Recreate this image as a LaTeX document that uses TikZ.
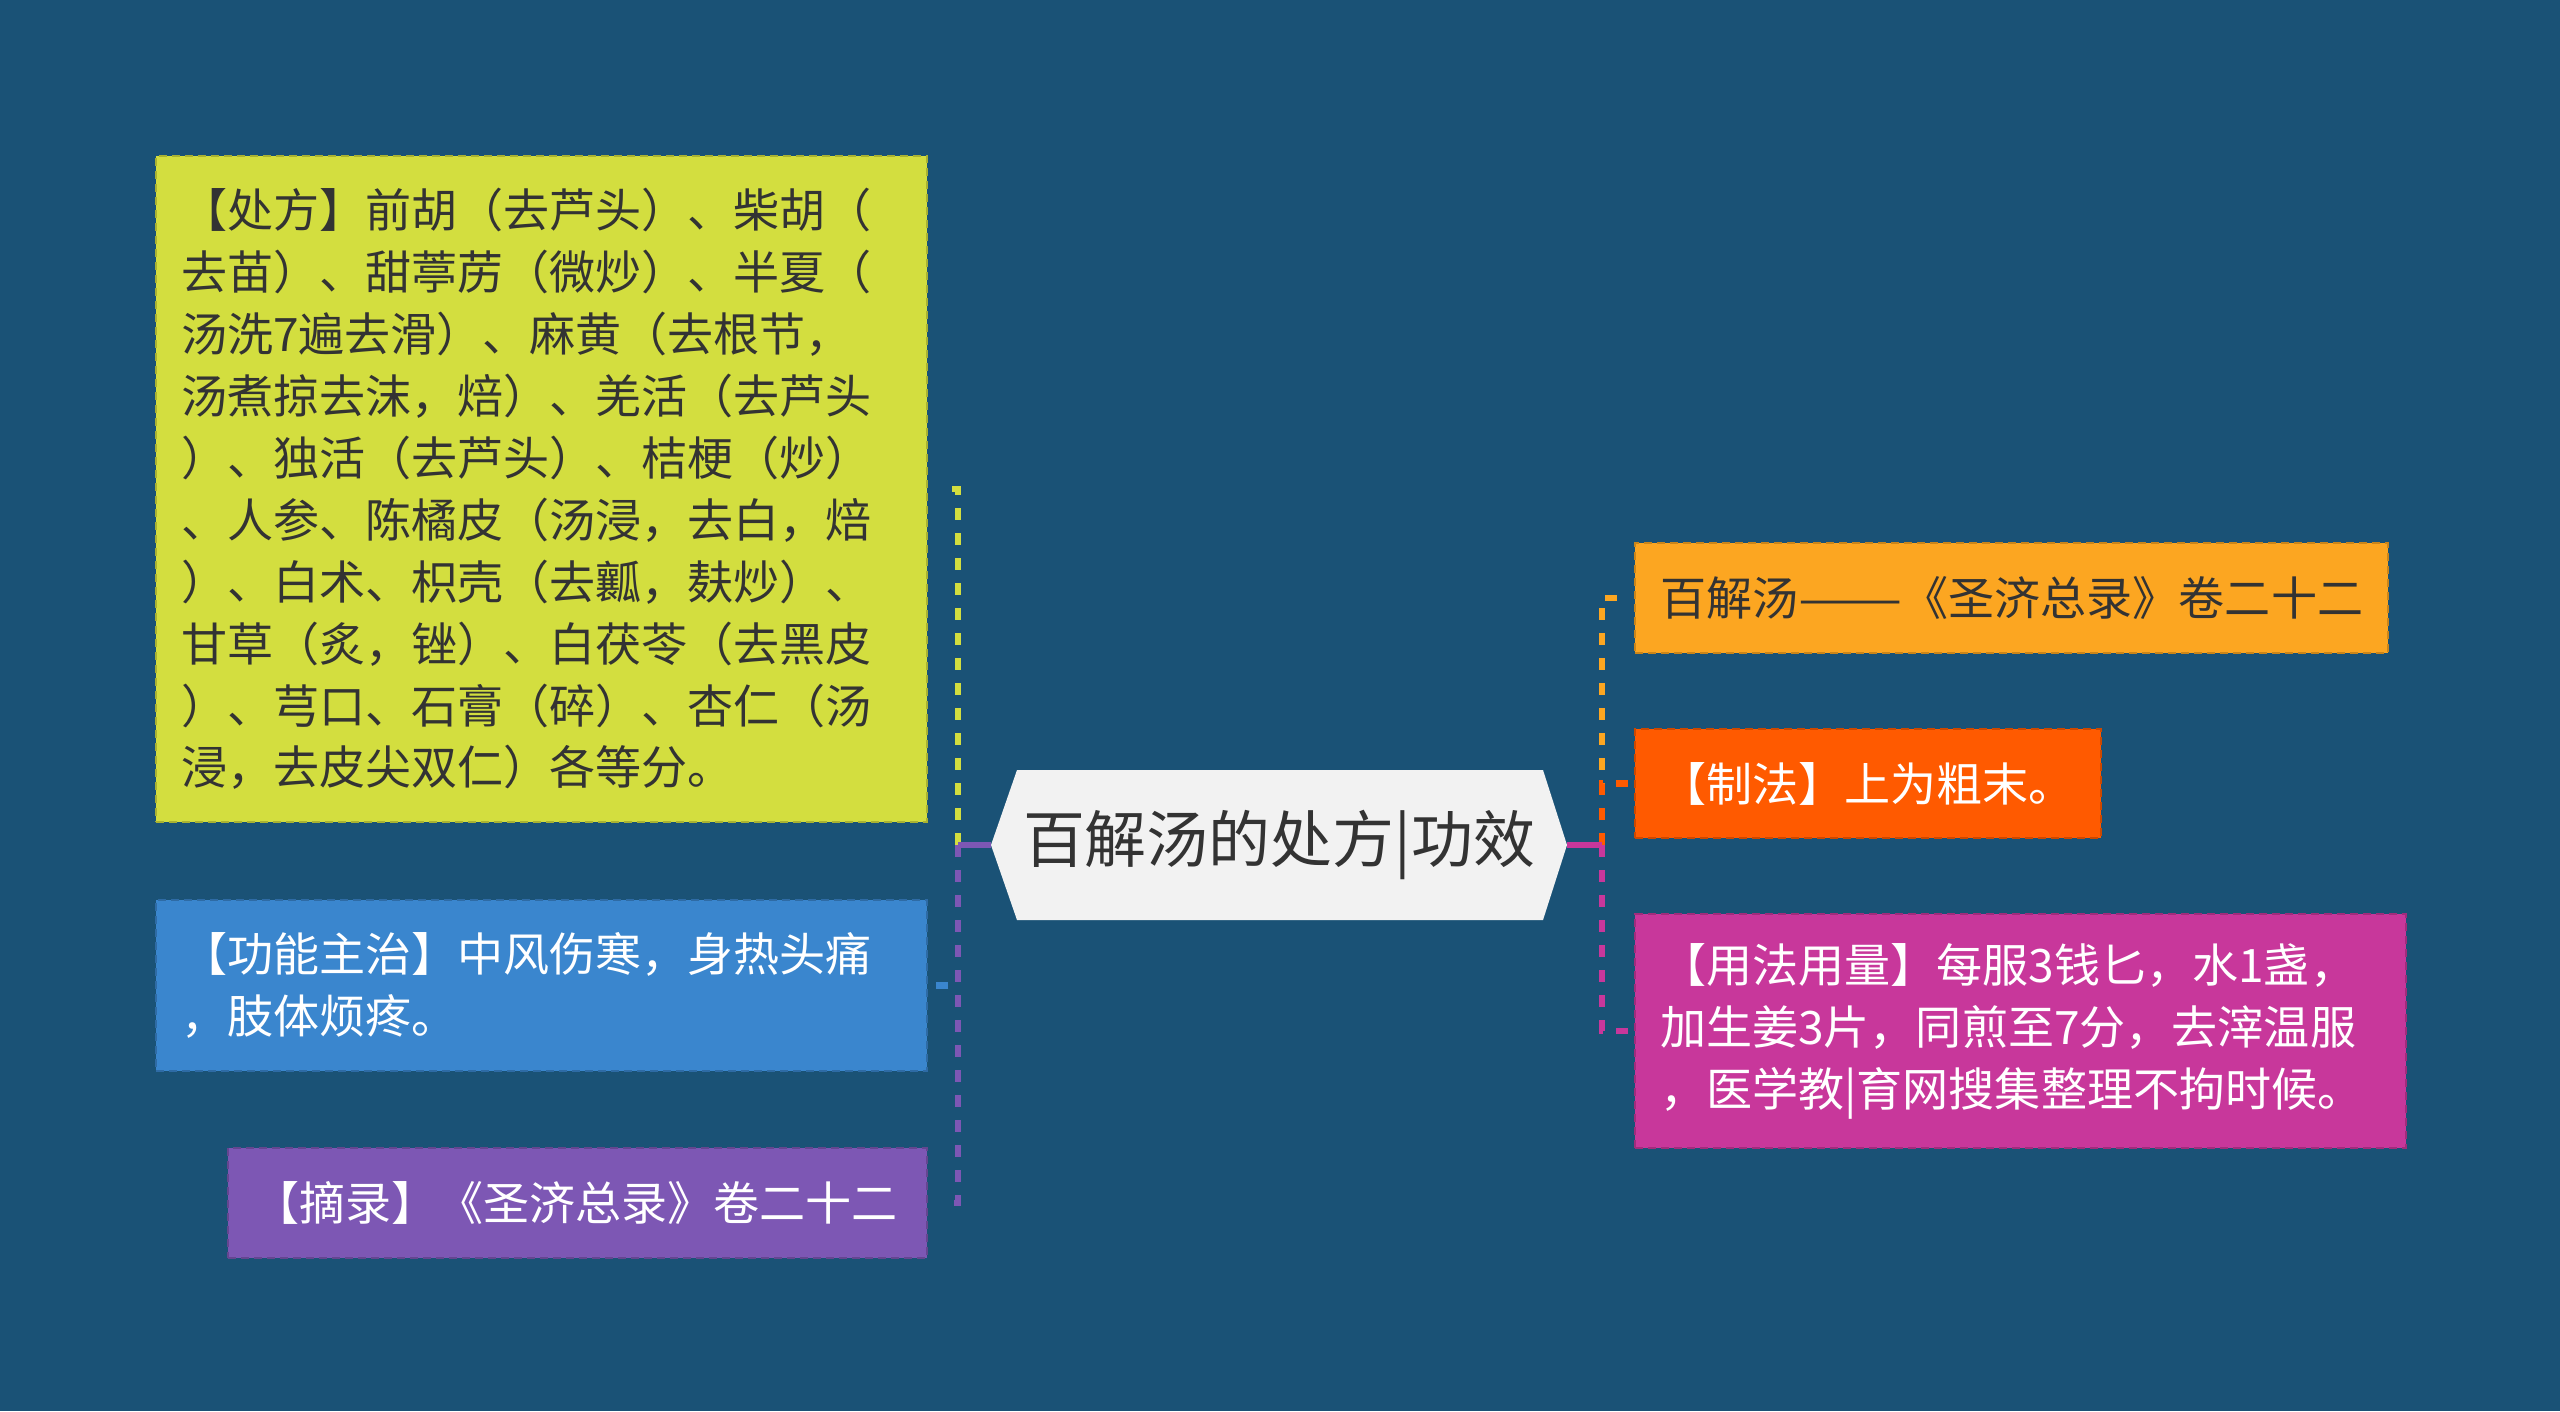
\documentclass[tikz,border=0pt]{standalone}
\usepackage{fontspec}
\usepackage{graphicx}
\setmainfont{Noto Sans CJK SC}
\usetikzlibrary{positioning}

\definecolor{bg}{HTML}{1A5276}
\definecolor{hexfill}{HTML}{F2F2F2}
\definecolor{darktext}{HTML}{333333}
\definecolor{limec}{HTML}{D3DE3F}
\definecolor{bluec}{HTML}{3A86CE}
\definecolor{purplec}{HTML}{7D57B4}
\definecolor{orangec}{HTML}{FCA621}
\definecolor{redc}{HTML}{FF5A00}
\definecolor{magentac}{HTML}{C8379B}

\begin{document}
\begin{tikzpicture}[x=0.01cm,y=-0.01cm,
  box/.style={draw=#1!80!black, fill=#1, dash pattern=on 0.08cm off 0.05cm,
    line width=0.02cm, anchor=north west, align=left, inner xsep=0.25cm,
    inner ysep=0pt, font=\fontsize{13.1pt}{17.6pt}\selectfont},
  twig/.style={draw=#1, line width=0.065cm, dash pattern=on 0.12cm off 0.13cm},
  stem/.style={draw=#1, line width=0.065cm}]

\fill[bg] (0,0) rectangle (2560,1411);
\useasboundingbox (0,0) rectangle (2560,1411);

% centre topic
\fill[hexfill] (991,845) -- (1017,770) -- (1543,770) -- (1567,845) -- (1543,920) -- (1017,920) -- cycle;
\node[text=darktext, font=\fontsize{17.6pt}{20pt}\selectfont] (center) at (1279,845) {百解汤的处方|功效};
\coordinate (ltip) at (991,845);
\coordinate (rtip) at (1567,845);
\coordinate (lroot) at (958,845);
\coordinate (rroot) at (1602,845);

% left branches
\node[box=limec, text=darktext, minimum width=7.71cm, minimum height=6.66cm, text width=7.21cm] (chufang) at (155,155)
  {【处方】前胡（去芦头）、柴胡（\\去苗）、甜葶苈（微炒）、半夏（\\汤洗7遍去滑）、麻黄（去根节，\\汤煮掠去沫，焙）、羌活（去芦头\\）、独活（去芦头）、桔梗（炒）\\、人参、陈橘皮（汤浸，去白，焙\\）、白术、枳壳（去瓤，麸炒）、\\甘草（炙，锉）、白茯苓（去黑皮\\）、芎口、石膏（碎）、杏仁（汤\\浸，去皮尖双仁）各等分。};
\node[box=bluec, text=white, minimum width=7.71cm, minimum height=1.71cm, text width=7.21cm] (gongneng) at (155,899)
  {【功能主治】中风伤寒，身热头痛\\，肢体烦疼。};
\node[box=purplec, text=white, minimum width=6.99cm, minimum height=1.1cm, text width=6.49cm] (zhailu) at (227,1147)
  {【摘录】《圣济总录》卷二十二};

% right branches
\node[box=orangec, text=darktext, minimum width=7.53cm, minimum height=1.1cm, text width=7.03cm] (laiyuan) at (1634,542)
  {百解汤\scalebox{1.35}[1]{——}《圣济总录》卷二十二};
\node[box=redc, text=white, minimum width=4.66cm, minimum height=1.09cm, text width=4.16cm] (zhifa) at (1634,728)
  {【制法】上为粗末。};
\node[box=magentac, text=white, minimum width=7.71cm, minimum height=2.34cm, text width=7.21cm] (yongfa) at (1634,913)
  {【用法用量】每服3钱匕，水1盏，\\加生姜3片，同煎至7分，去滓温服\\，医学教|育网搜集整理不拘时候。};

% connectors
\draw[twig=limec, shorten >=0.15cm] (lroot) |- (chufang.east);
\draw[twig=bluec, shorten >=0.04cm] (lroot) |- (gongneng.east);
\draw[twig=purplec, shorten >=0.15cm] (lroot) |- (zhailu.east);
\draw[stem=purplec] (ltip) -- (lroot);

\draw[twig=orangec, shorten >=0.1cm] (rroot) |- (laiyuan.west);
\draw[twig=redc, shorten >=0.04cm] (rroot) |- (zhifa.west);
\draw[twig=magentac, shorten >=0.02cm] (rroot) |- (yongfa.west);
\draw[stem=magentac] (rtip) -- (rroot);
\end{tikzpicture}
\end{document}
